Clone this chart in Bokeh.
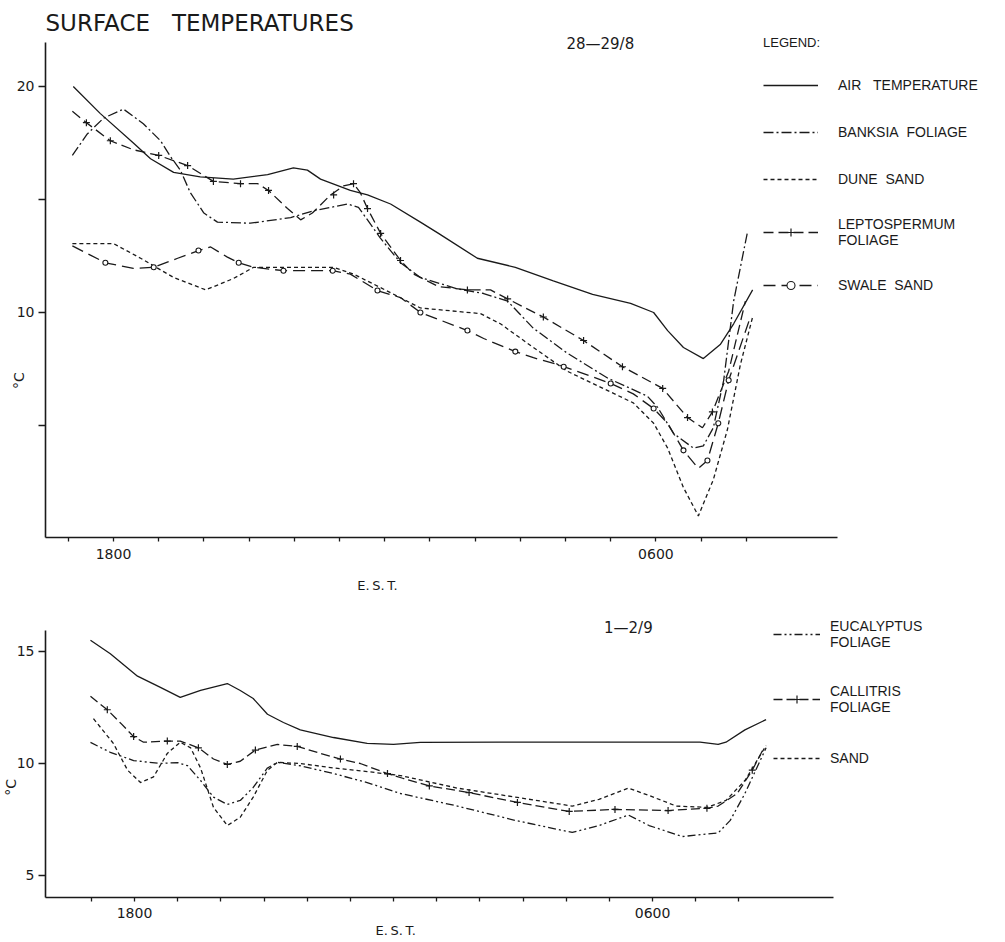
import math
from bokeh.plotting import figure
from bokeh.layouts import column
from bokeh.models import Range1d, FixedTicker, Label, Legend, LegendItem, LinearAxis
from bokeh.embed import file_html
from bokeh.resources import INLINE

INK = "#1a1a1a"
FONT = "DejaVu Sans"
LFONT = "Liberation Sans"

# ---------------- data: hours after 18:00 E.S.T., temperature in deg C ----------------
# Top panel: 28-29/8
TOP_TICK_HOURS = list(range(-1, 15))
TOP_TICK_LABELS = {0: "1800", 12: "0600"}
TOP_Y_TICKS = [5, 10, 15, 20]
TOP_Y_LABELS = {10: "10", 20: "20"}

AIR_H = [-0.89, -0.29, 0.44, 0.82, 1.33, 1.92, 2.65, 3.41, 3.98, 4.29, 4.58, 5.24, 5.62, 6.13,
         6.79, 7.19, 8.05, 8.89, 9.73, 10.60, 11.44, 11.95, 12.26, 12.61, 13.05, 13.43, 13.72, 14.14]
AIR_T = [20.0, 18.8, 17.5, 16.8, 16.2, 16.0, 15.9, 16.1, 16.4, 16.3, 15.9, 15.4, 15.2, 14.8,
         14.0, 13.5, 12.4, 12.0, 11.4, 10.8, 10.4, 10.0, 9.2, 8.45, 7.96, 8.6, 9.5, 11.0]

BANKSIA_H = [-0.91, -0.58, -0.22, 0.22, 0.66, 1.04, 1.26, 1.48, 1.70, 2.0, 2.3, 3.03, 3.92, 4.43,
             5.18, 5.42, 5.69, 5.9, 6.35, 6.79, 7.6, 8.19, 8.72, 9.29, 10.04, 10.93, 11.81, 12.04,
             12.39, 12.83, 13.05, 13.27, 13.5, 13.72, 14.03]
BANKSIA_T = [16.95, 17.9, 18.6, 19.0, 18.35, 17.6, 16.9, 16.3, 15.3, 14.4, 14.0, 13.95, 14.2, 14.5,
             14.8, 14.65, 13.9, 13.3, 12.2, 11.55, 11.05, 10.84, 10.5, 9.3, 8.2, 7.1, 6.3, 5.8,
             4.65, 4.0, 4.1, 4.9, 7.0, 10.5, 13.6]

DUNE_H = [-0.91, 0.0, 0.60, 1.33, 2.04, 2.65, 3.10, 4.14, 4.87, 5.31, 5.91, 6.79, 8.12, 8.56,
          9.29, 10.04, 10.77, 11.50, 11.95, 12.26, 12.61, 12.94, 13.27, 13.58, 13.87, 14.14]
DUNE_T = [13.05, 13.05, 12.4, 11.55, 11.0, 11.5, 12.0, 12.0, 12.0, 11.7, 11.1, 10.2, 9.95, 9.5,
          8.45, 7.4, 6.7, 6.0, 5.1, 4.0, 2.25, 1.0, 2.6, 4.8, 7.7, 9.8]

LEPTO_H = [-0.91, -0.60, -0.07, 0.44, 1.0, 1.64, 2.21, 2.81, 3.19, 3.43, 3.85, 4.14, 4.40, 4.80,
           5.09, 5.31, 5.46, 5.62, 5.91, 6.35, 6.64, 7.19, 7.83, 8.34, 8.72, 9.51, 10.40, 11.26,
           12.15, 12.70, 13.03, 13.25, 13.61, 13.98]
LEPTO_T = [18.9, 18.4, 17.6, 17.2, 16.95, 16.5, 15.8, 15.7, 15.7, 15.4, 14.6, 14.1, 14.4, 15.2,
           15.6, 15.7, 15.3, 14.6, 13.5, 12.3, 11.7, 11.15, 11.0, 11.0, 10.6, 9.8, 8.76, 7.6,
           6.64, 5.35, 4.9, 5.6, 7.4, 10.5]
LEPTO_MARK_H = [-0.60, -0.07, 1.0, 1.64, 2.21, 2.81, 3.43, 4.87, 5.31, 5.62, 5.91, 6.35, 7.83,
                8.72, 9.51, 10.40, 11.26, 12.15, 12.70, 13.25]
LEPTO_MARK_T = [18.4, 17.6, 16.95, 16.5, 15.8, 15.7, 15.4, 15.2, 15.7, 14.6, 13.5, 12.3, 11.0,
                10.6, 9.8, 8.76, 7.6, 6.64, 5.35, 5.6]

SWALE_H = [-0.91, -0.18, 0.44, 0.89, 1.42, 1.88, 2.15, 2.52, 2.77, 3.10, 3.76, 4.51, 4.85, 5.24,
           5.84, 6.35, 6.79, 7.83, 8.19, 8.89, 9.29, 9.82, 10.40, 11.0, 11.50, 11.95, 12.26,
           12.61, 12.94, 13.14, 13.38, 13.61, 14.09]
SWALE_T = [12.95, 12.2, 11.95, 12.0, 12.4, 12.74, 12.9, 12.45, 12.2, 12.0, 11.85, 11.85, 11.85,
           11.7, 10.97, 10.66, 10.0, 9.2, 8.85, 8.27, 8.0, 7.7, 7.3, 6.86, 6.4, 5.75, 5.1, 3.9,
           3.1, 3.45, 5.1, 7.0, 9.8]
SWALE_MARK_H = [-0.18, 0.89, 1.88, 2.77, 3.76, 4.85, 5.84, 6.79, 7.83, 8.89, 9.96, 11.0, 11.95,
                12.61, 13.14, 13.38, 13.61]
SWALE_MARK_T = [12.2, 12.0, 12.74, 12.2, 11.85, 11.85, 10.97, 10.0, 9.2, 8.27, 7.6, 6.86, 5.75,
                3.9, 3.45, 5.1, 7.0]

# Bottom panel: 1-2/9
BOT_TICK_HOURS = list(range(-1, 15))
BOT_TICK_LABELS = {0: "1800", 12: "0600"}
BOT_Y_TICKS = [5, 10, 15]
BOT_Y_LABELS = {5: "5", 10: "10", 15: "15"}

B_AIR_H = [-1.02, -0.56, 0.07, 0.60, 1.06, 1.53, 2.15, 2.45, 2.75, 3.08, 3.45, 3.84, 4.61, 5.39,
           6.0, 6.62, 8.47, 10.79, 13.1, 13.52, 13.7, 14.14, 14.63]
B_AIR_T = [15.5, 14.9, 13.9, 13.4, 12.95, 13.26, 13.57, 13.26, 12.9, 12.2, 11.83, 11.5, 11.16,
           10.9, 10.85, 10.94, 10.95, 10.95, 10.95, 10.85, 10.95, 11.5, 11.96]

CALLI_H = [-1.02, -0.63, -0.32, -0.02, 0.21, 0.76, 1.06, 1.48, 1.83, 2.15, 2.45, 2.80, 3.31, 3.77,
           4.31, 4.77, 5.23, 5.86, 6.23, 6.83, 7.75, 8.87, 10.07, 11.13, 12.36, 13.26, 13.52,
           13.96, 14.31, 14.58]
CALLI_T = [13.0, 12.4, 11.8, 11.2, 10.95, 11.0, 11.0, 10.7, 10.2, 9.96, 10.1, 10.6, 10.85, 10.76,
           10.45, 10.2, 10.0, 9.55, 9.33, 9.0, 8.7, 8.26, 7.86, 7.95, 7.9, 8.0, 8.1, 8.66, 9.7, 10.7]
CALLI_MARK_H = [-0.63, -0.02, 0.76, 1.48, 2.15, 2.80, 3.77, 4.77, 5.86, 6.83, 7.75, 8.87, 10.07,
                11.13, 12.36, 13.26, 14.31]
CALLI_MARK_T = [12.4, 11.2, 11.0, 10.7, 9.96, 10.6, 10.76, 10.2, 9.55, 9.0, 8.7, 8.26, 7.86,
                7.95, 7.9, 8.0, 9.7]

SAND_H = [-0.95, -0.49, -0.16, 0.14, 0.44, 0.76, 1.06, 1.30, 1.53, 1.83, 2.15, 2.45, 2.75, 3.08,
          3.31, 3.84, 4.61, 5.39, 6.16, 7.48, 8.82, 10.14, 10.76, 11.44, 11.92, 12.55, 13.26,
          13.70, 14.14, 14.63]
SAND_T = [12.0, 10.9, 9.7, 9.15, 9.4, 10.45, 10.95, 10.7, 9.8, 8.04, 7.23, 7.6, 8.5, 9.7, 10.05,
          10.0, 9.8, 9.64, 9.46, 8.9, 8.5, 8.1, 8.4, 8.9, 8.57, 8.1, 8.04, 8.35, 9.24, 10.8]

EUC_H = [-1.02, -0.56, -0.02, 0.60, 1.0, 1.23, 1.53, 1.83, 2.15, 2.45, 2.75, 3.08, 3.31, 3.84,
         4.61, 5.39, 6.16, 7.48, 8.82, 10.14, 10.76, 11.44, 11.92, 12.69, 13.52, 13.80, 14.14, 14.63]
EUC_T = [10.94, 10.5, 10.13, 10.0, 10.04, 9.9, 9.24, 8.5, 8.17, 8.35, 8.93, 9.8, 10.05, 9.9,
         9.55, 9.15, 8.66, 8.1, 7.46, 6.92, 7.23, 7.7, 7.23, 6.74, 6.9, 7.46, 8.66, 10.7]

# axis extents (data units)
TOP_X_AXIS = (-1.504, 16.018)
TOP_Y_AXIS = (0.044, 21.95)
BOT_X_AXIS = (-2.062, 16.19)
BOT_Y_AXIS = (4.02, 15.94)


def add_axes(p, xb, yb, xticks, xlabels, yticks, ylabels):
    xa = LinearAxis(fixed_location=yb[0], bounds=xb, ticker=FixedTicker(ticks=xticks),
                    major_label_overrides={t: xlabels.get(t, "") for t in xticks})
    ya = LinearAxis(fixed_location=xb[0], bounds=yb, ticker=FixedTicker(ticks=yticks),
                    major_label_overrides={t: ylabels.get(t, "") for t in yticks})
    for ax in (xa, ya):
        ax.axis_line_color = INK
        ax.axis_line_width = 1.6
        ax.major_tick_line_color = INK
        ax.major_tick_line_width = 1.3
        ax.minor_tick_line_color = None
        ax.major_tick_in = 0
        ax.major_label_text_color = INK
        ax.major_label_text_font = FONT
        ax.major_label_text_font_size = "14px"
    xa.major_tick_out = 4
    xa.major_label_standoff = 7
    ya.major_tick_out = 7
    ya.major_label_standoff = 4
    p.add_layout(xa, "below")
    p.add_layout(ya, "left")


def base_fig(height, xr, yr):
    p = figure(width=1000, height=height, x_range=Range1d(*xr), y_range=Range1d(*yr),
               output_backend="svg", toolbar_location=None,
               x_axis_location=None, y_axis_location=None,
               min_border=0, min_border_left=0, min_border_right=0,
               min_border_top=0, min_border_bottom=0)
    p.xgrid.visible = False
    p.ygrid.visible = False
    p.outline_line_color = None
    p.background_fill_color = "white"
    p.border_fill_color = "white"
    return p


def text(p, x, y, s, size="13px", align="left", angle=0.0, font=FONT):
    p.add_layout(Label(x=x, y=y, text=s, text_font=font, text_font_size=size,
                       text_color=INK, text_align=align, text_baseline="middle", angle=angle))


def style_legend(leg, standoff, gw, spacing):
    leg.label_text_font = LFONT
    leg.label_text_font_size = "14px"
    leg.label_text_color = INK
    leg.label_text_line_height = 1.35
    leg.label_standoff = standoff
    leg.glyph_width = gw
    leg.glyph_height = 20
    leg.spacing = spacing
    leg.padding = 0
    leg.margin = 0
    leg.border_line_color = None
    leg.background_fill_alpha = 0


# ---------------- top figure ----------------
p1 = base_fig(610, (-2.5, 19.624), (-3.186, 23.805))
add_axes(p1, TOP_X_AXIS, TOP_Y_AXIS, TOP_TICK_HOURS, TOP_TICK_LABELS, TOP_Y_TICKS, TOP_Y_LABELS)

r_air = p1.line(AIR_H, AIR_T, line_color=INK, line_width=1.3)
r_bank = p1.line(BANKSIA_H, BANKSIA_T, line_color=INK, line_width=1.3, line_dash="10 3 2 3")
r_dune = p1.line(DUNE_H, DUNE_T, line_color=INK, line_width=1.3, line_dash="4 3")
r_lep = p1.line(LEPTO_H, LEPTO_T, line_color=INK, line_width=1.3, line_dash="10 5")
r_lep_m = p1.scatter(LEPTO_MARK_H, LEPTO_MARK_T, marker="cross", size=7, line_color=INK,
                     line_width=1.2)
r_sw = p1.line(SWALE_H, SWALE_T, line_color=INK, line_width=1.3, line_dash="12 6")
r_sw_m = p1.scatter(SWALE_MARK_H, SWALE_MARK_T, marker="circle", size=5, line_color=INK,
                    fill_color="white", line_width=1.1)

leg1 = Legend(items=[
    LegendItem(label="AIR\u00a0\u00a0\u00a0TEMPERATURE", renderers=[r_air]),
    LegendItem(label="BANKSIA\u00a0\u00a0FOLIAGE", renderers=[r_bank]),
    LegendItem(label="DUNE\u00a0\u00a0SAND", renderers=[r_dune]),
    LegendItem(label="LEPTOSPERMUM\nFOLIAGE", renderers=[r_lep, r_lep_m]),
    LegendItem(label="SWALE\u00a0\u00a0SAND", renderers=[r_sw, r_sw_m]),
], location=(763, 315), title="LEGEND:")
style_legend(leg1, 20, 55, 27)
leg1.title_text_font = LFONT
leg1.title_text_font_size = "13px"
leg1.title_text_font_style = "normal"
leg1.title_text_color = INK
leg1.title_standoff = 25
p1.add_layout(leg1)

text(p1, -1.504, 22.83, "SURFACE\u00a0\u00a0\u00a0TEMPERATURES", size="23px")
text(p1, 10.77, 21.86, "28\u201429/8", size="15px", align="center")
text(p1, -2.10, 6.99, "\u00b0C", size="14px", align="center", angle=math.pi / 2)
text(p1, 5.84, -2.08, "E.\u2009S.\u2009T.", size="13px", align="center")

# ---------------- bottom figure ----------------
p2 = base_fig(330, (-3.104, 20.06), (2.098, 16.83))
add_axes(p2, BOT_X_AXIS, BOT_Y_AXIS, BOT_TICK_HOURS, BOT_TICK_LABELS, BOT_Y_TICKS, BOT_Y_LABELS)

b_air = p2.line(B_AIR_H, B_AIR_T, line_color=INK, line_width=1.3)
b_euc = p2.line(EUC_H, EUC_T, line_color=INK, line_width=1.3, line_dash="8 3 2 3 2 3")
b_cal = p2.line(CALLI_H, CALLI_T, line_color=INK, line_width=1.3, line_dash="9 4")
b_cal_m = p2.scatter(CALLI_MARK_H, CALLI_MARK_T, marker="cross", size=7, line_color=INK,
                     line_width=1.2)
b_sand = p2.line(SAND_H, SAND_T, line_color=INK, line_width=1.3, line_dash="4 3")

leg2 = Legend(items=[
    LegendItem(label="EUCALYPTUS\nFOLIAGE", renderers=[b_euc]),
    LegendItem(label="CALLITRIS\nFOLIAGE", renderers=[b_cal, b_cal_m]),
    LegendItem(label="SAND", renderers=[b_sand]),
], location=(773, 172))
style_legend(leg2, 10, 47, 33)
p2.add_layout(leg2)

text(p2, 11.44, 16.03, "1\u20142/9", size="15px", align="center")
text(p2, -2.87, 8.93, "\u00b0C", size="14px", align="center", angle=math.pi / 2)
text(p2, 6.05, 2.54, "E.\u2009S.\u2009T.", size="13px", align="center")

layout = column(p1, p2, spacing=0)
open("out.html", "w").write(file_html(layout, INLINE))
